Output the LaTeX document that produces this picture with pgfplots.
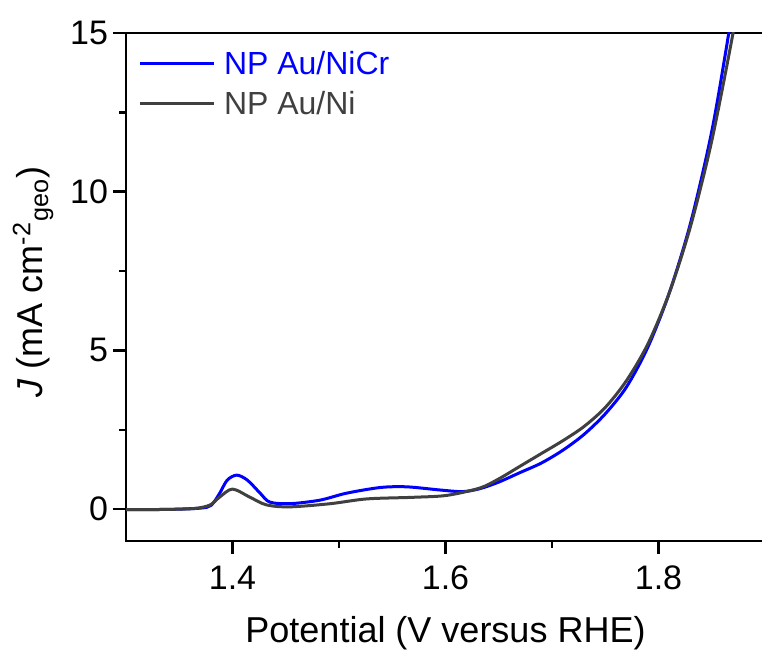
\documentclass[border=0pt]{standalone}
\usepackage{fontspec}
\setmainfont{Liberation Sans}
\usepackage{pgfplots}
\pgfplotsset{compat=1.18}

\definecolor{nicrblue}{RGB}{0,0,255}
\definecolor{nigray}{RGB}{64,64,64}

\begin{document}
\begin{tikzpicture}
\begin{axis}[
  name=ax,
  scale only axis,
  width=319.5pt, height=253.9pt,
  xmin=1.3, xmax=1.9, ymin=-1, ymax=15,
  axis line style={line width=1.2pt, black},
  xtick={1.4,1.6,1.8}, ytick={0,5,10,15},
  minor x tick num=1, minor y tick num=1,
  tick pos=left,
  tick align=outside,
  major tick length=6.5pt, minor tick length=3.5pt,
  every tick/.style={line width=1.2pt, black},
  /pgf/number format/assume math mode=true,
  tick label style={font=\fontsize{17}{20}\selectfont},
  xticklabel style={yshift=-2.5pt},
  yticklabel style={xshift=1pt},
  xlabel={Potential (V versus RHE)},
  xlabel style={at={(axis description cs:0.5,-0.1994)}, anchor=base, font=\fontsize{18}{21}\selectfont},
  ylabel={\textit{J} (mA cm\textsuperscript{-2}\textsubscript{geo})},
  ylabel style={at={(axis description cs:-0.130,0.5096)}, anchor=base, font=\fontsize{18}{21}\selectfont},
  legend style={at={(axis description cs:0,1)}, anchor=north west, draw=none, fill=none,
    inner sep=0pt, outer sep=0pt, xshift=6pt, yshift=-9.3pt, row sep=8.5pt,
    font=\fontsize{16}{19}\selectfont,
    nodes={inner sep=0pt, text height=11.5pt, text depth=0pt},
    /tikz/every odd column/.append style={column sep=4.5pt}},
  legend cell align=left,
  legend image code/.code={\draw[#1] (0pt,0pt) -- (37pt,0pt);},
]
% NP Au/NiCr sweep
\addplot[nicrblue, line width=1.5pt, smooth, tension=0.5] coordinates {
  (1.300,-0.02) (1.340,-0.01) (1.370,0.03) (1.380,0.12) (1.388,0.50)
  (1.395,0.91) (1.404,1.07) (1.414,0.91) (1.426,0.50) (1.435,0.22)
  (1.454,0.17) (1.482,0.28) (1.507,0.50) (1.539,0.68) (1.564,0.70)
  (1.595,0.60) (1.616,0.55) (1.632,0.64) (1.650,0.85) (1.670,1.15)
  (1.690,1.45) (1.710,1.85) (1.730,2.35) (1.750,3.00) (1.770,3.85)
  (1.790,5.10) (1.810,6.80) (1.830,9.00) (1.850,11.90) (1.866,15.00)
  (1.875,17.0)
};
\addlegendentry{\textcolor{nicrblue}{NP Au/NiCr}}
% NP Au/Ni sweep
\addplot[nigray, line width=1.5pt, smooth, tension=0.5] coordinates {
  (1.300,-0.02) (1.340,-0.01) (1.365,0.02) (1.379,0.13) (1.388,0.38)
  (1.400,0.63) (1.416,0.38) (1.432,0.13) (1.454,0.07) (1.492,0.17)
  (1.526,0.32) (1.569,0.37) (1.601,0.43) (1.632,0.66) (1.650,0.95)
  (1.670,1.35) (1.690,1.75) (1.710,2.15) (1.730,2.60) (1.750,3.20)
  (1.770,4.05) (1.790,5.20) (1.810,6.80) (1.830,8.90) (1.850,11.60)
  (1.870,15.00) (1.880,17.0)
};
\addlegendentry{\textcolor{nigray}{NP Au/Ni}}
\end{axis}
% page ends just short of the right-hand frame line
\pgfresetboundingbox
\path ([xshift=-63pt, yshift=-55.1pt]ax.south west) rectangle ([xshift=-1.5pt, yshift=16.5pt]ax.north east);
\end{tikzpicture}
\end{document}
